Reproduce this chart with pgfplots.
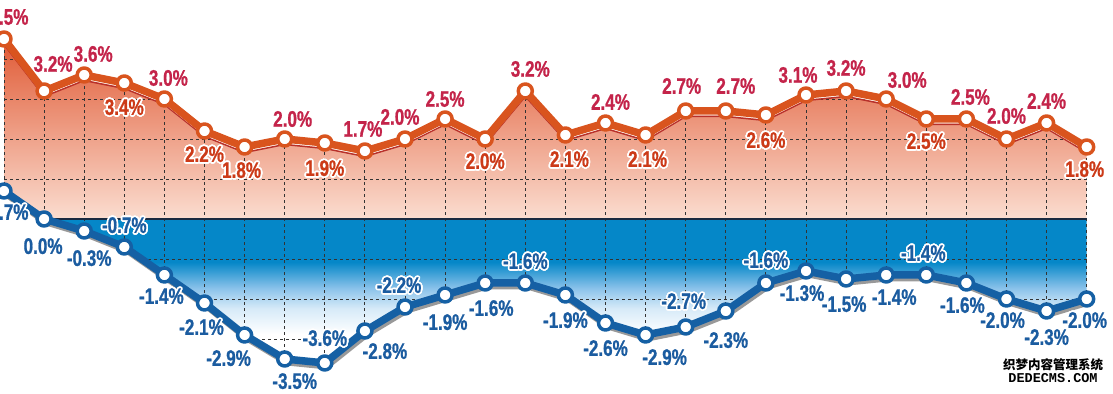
\documentclass[border=0pt]{standalone}
\usepackage{pgfplots}
\pgfplotsset{compat=1.18}
\usepackage{pgfplotstable}
\usepackage{fontspec}
\setmainfont{Liberation Sans}[FakeStretch=0.76, BoldFeatures={FakeBold=0.8}]
\newfontfamily\cjk{Noto Sans CJK SC}
\newfontfamily\monof{Liberation Mono}
\usepackage{contour}
\contourlength{1.7pt}
\definecolor{redline}{HTML}{D9541E}
\definecolor{reddark}{HTML}{B8302A}
\definecolor{redtop}{HTML}{E05A35}
\definecolor{redbot}{HTML}{FBDDD0}
\definecolor{redlabA}{HTML}{C4244A}
\definecolor{redlabB}{HTML}{CC3A18}
\definecolor{blueline}{HTML}{1560A4}
\definecolor{bluelab}{HTML}{1B5CA0}
\definecolor{bluefill}{HTML}{0587C8}
\definecolor{bluemid}{HTML}{8AC2EA}
\definecolor{bluelt}{HTML}{D6EAF8}
\definecolor{zeroline}{HTML}{1A2A40}
\pgfdeclareverticalshading{blueshade}{100bp}{color(0bp)=(white); color(35bp)=(white); color(44bp)=(bluelt); color(51bp)=(bluemid); color(60bp)=(bluefill); color(100bp)=(bluefill)}

\pgfplotstableread{
x y dx dy
0 4.5 5 22
1 3.2 9 27
2 3.6 9 21
3 3.4 0 -25
4 3.0 4 21
5 2.2 0 -24
6 1.8 -3 -24
7 2.0 8 20
8 1.9 0 -26
9 1.7 -2 22
10 2.0 -5 22
11 2.5 0 20
12 2.0 0 -23
13 3.2 5 22
14 2.1 4 -25
15 2.4 5 21
16 2.1 2 -25
17 2.7 -4 25
18 2.7 10 25
19 2.6 0 -26
20 3.1 -8 20
21 3.2 0 23
22 3.0 21 19
23 2.5 0 -23
24 2.5 4 22
25 2.0 0 23
26 2.4 0 22
27 1.8 -2 -23
}\cpi

\pgfplotstableread{
x y dx dy
0 0.7 5 -22
1 0.0 -1 -28
2 -0.3 5 -28
3 -0.7 0 21
4 -1.4 -3 -22
5 -2.1 -3 -25
6 -2.9 -16 -24
7 -3.5 10 -23
8 -3.6 0 24
9 -2.8 20 -21
10 -2.2 -6 21
11 -1.9 0 -28
12 -1.6 6 -26
13 -1.6 0 21
14 -1.9 0 -26
15 -2.6 0 -26
16 -2.9 19 -23
17 -2.7 -2 25
18 -2.3 0 -30
19 -1.6 0 22
20 -1.3 -4 -23
21 -1.5 -2 -26
22 -1.4 8 -23
23 -1.4 -3 21
24 -1.6 -4 -23
25 -2.0 -4 -22
26 -2.3 0 -27
27 -2.0 -2 -22
}\ppi

\begin{document}
\begin{tikzpicture}
\begin{axis}[
  scale only axis, width=1113pt, height=394pt,
  xmin=-0.0998, xmax=27.656, ymin=-4.375, ymax=5.475,
  hide axis, clip=true,
  gridst/.style={black!80, line width=0.9pt, dash pattern=on 3pt off 3pt},
  /pgf/number format/.cd, fixed, fixed zerofill, precision=1, assume math mode=true]

% fills
\addplot[draw=none, top color=redtop, bottom color=redbot] table[x=x,y=y]{\cpi} \closedcycle;
\addplot[draw=none, shade, shading=blueshade, restrict x to domain=1:27] table[x=x,y=y]{\ppi} \closedcycle;

% grid
\pgfplotsinvokeforeach{-3,-2,-1,1,2,3,4}{
  \addplot[gridst] coordinates {(0,#1) (27,#1)};
}
\pgfplotsinvokeforeach{0,...,27}{
  \addplot[gridst] coordinates {(#1,-5) (#1,6)};
}

% white covers outside the filled bands
\addplot[draw=none, fill=white] table[x=x,y=y]{\cpi} -- (axis cs:27.3,1.8) -- (axis cs:27.3,6) -- (axis cs:-0.3,6) -- (axis cs:-0.3,4.5) -- cycle;
\addplot[draw=none, fill=white] table[x=x,y=y]{\ppi} -- (axis cs:27.3,-2.0) -- (axis cs:27.3,-5) -- (axis cs:-0.3,-5) -- (axis cs:-0.3,0.7) -- cycle;

\addplot[zeroline, line width=2pt] coordinates {(1,0) (27,0)};

% PPI
\addplot[black!40, line width=5pt, line join=round, xshift=2pt, yshift=-4pt] table[x=x,y=y]{\ppi};
\addplot[blueline, line width=7.5pt, line join=round,
  mark=*, mark size=7pt, mark options={fill=white, draw=blueline, line width=3.5pt},
  point meta=y,
  visualization depends on={\thisrow{dx}\as\dx},
  visualization depends on={\thisrow{dy}\as\dy},
  nodes near coords={\textcolor{bluelab}{\contour{white}{\pgfmathprintnumber{\pgfplotspointmeta}\%}}},
  every node near coord/.append style={anchor=center, inner sep=0pt, xshift=\dx pt, yshift=\dy pt,
     font=\fontsize{22.5}{22.5}\selectfont\bfseries}
] table[x=x,y=y]{\ppi};

% CPI
\addplot[reddark, line width=1.5pt, line join=round, yshift=-5.5pt] table[x=x,y=y]{\cpi};
\addplot[white, line width=2pt, line join=round, yshift=-3.5pt] table[x=x,y=y]{\cpi};
\addplot[redline, line width=7.5pt, line join=round,
  mark=*, mark size=7pt, mark options={fill=white, draw=redline, line width=3.5pt},
  point meta=y,
  visualization depends on={\thisrow{dx}\as\dx},
  visualization depends on={\thisrow{dy}\as\dy},
  nodes near coords={\ifdim\dy pt>0pt \textcolor{redlabA}{\pgfmathprintnumber{\pgfplotspointmeta}\%}\else\textcolor{redlabB}{\contour{white}{\pgfmathprintnumber{\pgfplotspointmeta}\%}}\fi},
  every node near coord/.append style={anchor=center, inner sep=0pt, xshift=\dx pt, yshift=\dy pt,
     font=\fontsize{22.5}{22.5}\selectfont\bfseries}
] table[x=x,y=y]{\cpi};

\node[font=\cjk\fontsize{12.5}{12.5}\selectfont\bfseries, inner sep=0pt] at (axis cs:26.16,-3.675) {\contour{white}{织梦内容管理系统}};
\node[font=\monof\fontsize{13.5}{13.5}\selectfont\bfseries, inner sep=0pt] at (axis cs:26.16,-4.0) {\contour{white}{DEDECMS.COM}};
\end{axis}
\pgfresetboundingbox
\path[use as bounding box] (current axis.south west) rectangle (current axis.north east);
\end{tikzpicture}
\end{document}
